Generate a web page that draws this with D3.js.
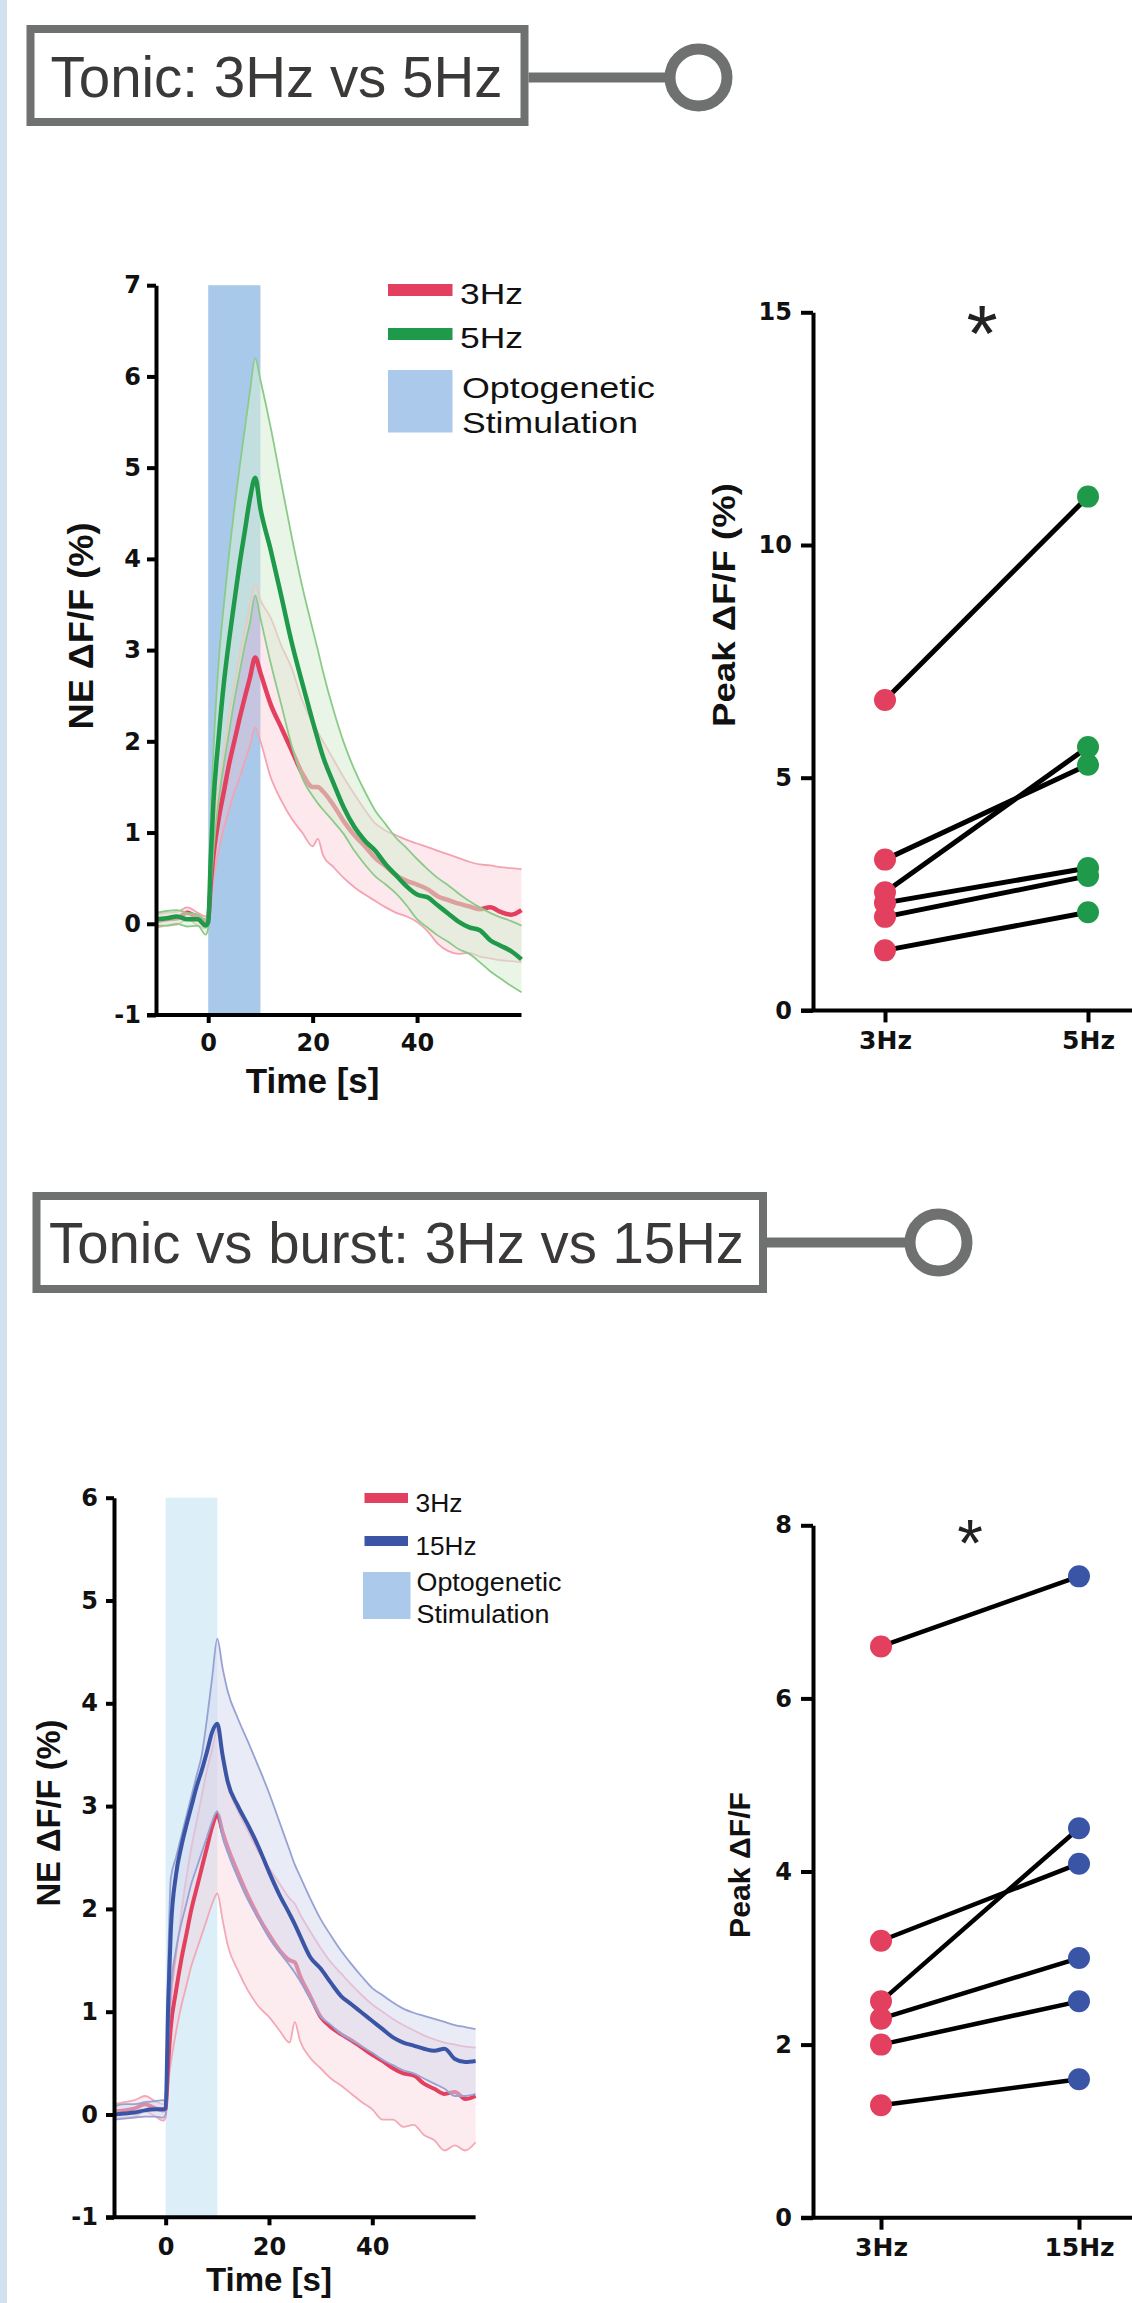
<!DOCTYPE html>
<html lang="en">
<head>
<meta charset="UTF-8">
<title>NE response: tonic vs burst stimulation</title>
<script src="https://cdn.jsdelivr.net/npm/d3@7"></script>
<style>
  body { margin: 0; background: #fff; }
  svg { display: block; }
  text { font-family: "Liberation Sans", Arial, sans-serif; }
  .domain, .tick line { stroke: #000; stroke-width: 4; }
</style>
</head>
<body>
<svg id="fig" width="1132" height="2303"></svg>
<script>
// ---- panel A: 3Hz vs 5Hz traces (time in s, dF/F in %) ----
const T1 = [-10,-8,-6,-4,-2,-0.5,0,0.5,1,2,3,4,5,6,7,8,9,10,12,14,16,18,20,21,22,24,26,28,30,32,34,36,38,40,42,44,46,48,50,52,54,56,58,60];
const green5Mean = [0.05,0.06,0.08,0.05,0.05,-0.02,0.02,0.74,1.33,2.04,2.64,3.11,3.53,3.94,4.3,4.66,4.89,4.55,4.09,3.59,3.08,2.64,2.22,2.02,1.83,1.54,1.27,1.06,0.91,0.8,0.65,0.53,0.41,0.32,0.29,0.2,0.11,0.02,-0.04,-0.07,-0.18,-0.24,-0.3,-0.39];
const green5Hi = [0.12,0.14,0.15,0.12,0.1,0.05,0.1,1.2,1.9,2.87,3.5,4.06,4.55,5.0,5.42,5.84,6.2,5.96,5.43,4.83,4.24,3.7,3.23,3.0,2.76,2.34,1.98,1.69,1.45,1.24,1.09,0.94,0.83,0.71,0.6,0.5,0.42,0.33,0.25,0.18,0.12,0.07,0.03,-0.02];
const green5Lo = [-0.02,-0.02,0.0,-0.03,-0.02,-0.12,-0.05,0.4,0.8,1.35,1.75,2.1,2.45,2.75,3.05,3.3,3.6,3.35,2.85,2.4,1.95,1.6,1.4,1.32,1.25,1.12,0.98,0.8,0.65,0.52,0.43,0.33,0.2,0.05,-0.04,-0.13,-0.2,-0.28,-0.33,-0.42,-0.52,-0.6,-0.68,-0.75];
const red3MeanA = [0.03,0.05,0.06,0.12,0.06,0.02,0.05,0.45,0.75,1.15,1.45,1.75,2.0,2.25,2.48,2.7,2.92,2.75,2.4,2.15,1.9,1.65,1.5,1.5,1.45,1.3,1.12,0.97,0.85,0.72,0.63,0.53,0.47,0.43,0.38,0.3,0.26,0.22,0.19,0.16,0.18,0.13,0.1,0.15];
const red3HiA = [0.1,0.12,0.13,0.18,0.12,0.08,0.1,0.6,1.0,1.5,1.9,2.3,2.62,2.95,3.22,3.5,3.72,3.55,3.35,3.05,2.8,2.45,2.2,2.1,2.0,1.8,1.6,1.42,1.25,1.1,1.02,0.97,0.92,0.88,0.84,0.8,0.76,0.72,0.68,0.65,0.64,0.62,0.61,0.6];
const red3LoA = [-0.04,-0.02,-0.01,0.05,-0.02,-0.05,0.0,0.3,0.5,0.8,1.05,1.25,1.45,1.6,1.78,1.95,2.15,2.0,1.6,1.35,1.15,1.0,0.85,0.93,0.75,0.62,0.5,0.4,0.32,0.25,0.18,0.12,0.08,0.02,-0.08,-0.22,-0.3,-0.33,-0.32,-0.36,-0.38,-0.4,-0.41,-0.42];

// ---- panel C: 3Hz vs 15Hz traces ----
const T3 = [-10,-8,-6,-4,-2,-0.5,0,0.5,1,2,3,4,5,6,7,8,9,10,11,12,14,16,18,20,22,24,25,26,28,30,32,34,36,38,40,42,44,46,48,50,52,54,56,58,60];
const blue15Mean = [0.0,0.01,0.02,0.04,0.05,0.05,0.06,1.1,1.79,2.33,2.6,2.81,3.0,3.19,3.35,3.53,3.72,3.8,3.5,3.24,3.0,2.81,2.6,2.36,2.14,1.95,1.85,1.74,1.53,1.42,1.28,1.15,1.07,0.99,0.91,0.83,0.75,0.7,0.67,0.64,0.62,0.64,0.54,0.51,0.52];
const blue15Hi = [0.08,0.1,0.1,0.12,0.13,0.14,0.12,1.5,2.3,2.5,2.7,2.9,3.1,3.3,3.5,3.85,4.25,4.63,4.35,4.12,3.85,3.62,3.38,3.13,2.85,2.57,2.43,2.32,2.1,1.9,1.74,1.59,1.46,1.34,1.23,1.16,1.09,1.03,0.99,0.96,0.93,0.9,0.87,0.85,0.83];
const blue15Lo = [-0.05,-0.04,-0.03,-0.02,-0.02,-0.03,0.0,0.7,1.2,1.6,1.85,2.05,2.25,2.4,2.55,2.7,2.85,2.95,2.7,2.55,2.3,2.08,1.9,1.72,1.58,1.45,1.38,1.3,1.12,0.95,0.87,0.78,0.72,0.66,0.6,0.53,0.48,0.43,0.4,0.35,0.3,0.25,0.18,0.18,0.2];
const red3MeanC = [0.03,0.04,0.06,0.1,0.06,0.04,0.05,0.5,0.85,1.2,1.5,1.75,2.0,2.2,2.4,2.6,2.8,2.92,2.75,2.6,2.35,2.12,1.92,1.75,1.6,1.5,1.48,1.35,1.15,0.95,0.85,0.78,0.72,0.65,0.58,0.52,0.45,0.4,0.38,0.3,0.25,0.2,0.22,0.15,0.18];
const red3HiC = [0.1,0.12,0.14,0.18,0.13,0.1,0.12,0.7,1.1,1.55,1.95,2.3,2.6,2.85,3.1,3.35,3.55,3.75,3.45,3.2,2.95,2.75,2.55,2.4,2.25,2.1,2.05,1.95,1.78,1.62,1.48,1.37,1.26,1.16,1.07,1.0,0.93,0.87,0.82,0.77,0.73,0.7,0.68,0.66,0.65];
const red3LoC = [-0.04,-0.03,-0.02,0.03,-0.02,-0.06,-0.03,0.3,0.5,0.8,1.05,1.25,1.45,1.6,1.75,1.9,2.05,2.15,1.9,1.65,1.4,1.2,1.05,0.95,0.82,0.7,0.9,0.72,0.55,0.45,0.35,0.28,0.2,0.12,0.05,-0.05,-0.05,-0.12,-0.1,-0.2,-0.25,-0.35,-0.3,-0.35,-0.27];

// ---- paired peak values (one pair per animal) ----
const groupsB = ["3Hz", "5Hz"];
const peakB3 = [6.67, 3.24, 2.54, 2.31, 2.01, 1.29];
const peakB5 = [11.04, 5.28, 5.66, 3.06, 2.89, 2.11];
const groupsD = ["3Hz", "15Hz"];
const peakD3 = [6.6, 3.2, 2.5, 2.3, 2.0, 1.3];
const peakD15 = [7.41, 4.09, 4.5, 3.0, 2.5, 1.6];

const xTicks = [0, 20, 40];
const yTicksA = [-1, 0, 1, 2, 3, 4, 5, 6, 7];
const yTicksC = [-1, 0, 1, 2, 3, 4, 5, 6];
const yTicksB = [0, 5, 10, 15];
const yTicksD = [0, 2, 4, 6, 8];

const RED = "#e2405e", GREEN = "#1f9a4a", BLUE = "#3a55a6";

const svg = d3.select("#fig");

// bold, wide tick font like the original figure
function styleTicks(sel, size) {
  sel.selectAll(".tick text")
    .style("font-family", "'DejaVu Sans', sans-serif")
    .style("font-weight", "bold")
    .style("font-size", size + "px")
    .style("fill", "#111");
}

// light strip on the left edge
svg.append("rect").attr("x", 0).attr("y", 0).attr("width", 7).attr("height", 2303).attr("fill", "#d3e1ef");

function titleBox(x0, y0, x1, y1, label, textX, baseY, textW, fs, cx, cy) {
  const g = svg.append("g");
  g.append("line").attr("x1", x1).attr("x2", cx).attr("y1", cy).attr("y2", cy)
    .attr("stroke", "#6f7070").attr("stroke-width", 10);
  g.append("circle").attr("cx", cx).attr("cy", cy).attr("r", 28.5)
    .attr("fill", "#fff").attr("stroke", "#6f7070").attr("stroke-width", 11);
  g.append("rect").attr("x", x0 + 4).attr("y", y0 + 4).attr("width", x1 - x0 - 8).attr("height", y1 - y0 - 8)
    .attr("fill", "#fff").attr("stroke", "#6f7070").attr("stroke-width", 8);
  g.append("text").attr("x", textX).attr("y", baseY).attr("font-size", fs).attr("fill", "#3b3838")
    .attr("textLength", textW).attr("lengthAdjust", "spacingAndGlyphs").text(label);
}

titleBox(26.5, 25, 528.5, 126, "Tonic: 3Hz vs 5Hz", 50.5, 97, 452, 57, 698.5, 77.5);
titleBox(32.5, 1192, 767, 1293, "Tonic vs burst: 3Hz vs 15Hz", 49, 1262.5, 695, 58, 938.5, 1242.5);

function traceChart(c) {
  const g = svg.append("g");
  const x = d3.scaleLinear([-10, 60], c.xRange);
  const y = d3.scaleLinear([-1, c.yMax], c.yRange);

  g.append("rect").attr("x", x(0)).attr("y", y(c.yMax))
    .attr("width", x(10) - x(0)).attr("height", y(-1) - y(c.yMax)).attr("fill", c.stim);

  c.series.forEach(s => {
    const pts = c.time.map((t, i) => ({ t, m: s.mean[i], lo: s.lo[i], hi: s.hi[i] }));
    const area = d3.area().x(d => x(d.t)).y0(d => y(d.lo)).y1(d => y(d.hi)).curve(d3.curveMonotoneX);
    g.append("path").attr("d", area(pts)).attr("fill", s.band);
    ["lo", "hi"].forEach(k => {
      g.append("path")
        .attr("d", d3.line().x(d => x(d.t)).y(d => y(d[k])).curve(d3.curveMonotoneX)(pts))
        .attr("fill", "none").attr("stroke", s.edge).attr("stroke-width", 1.8);
    });
    g.append("path")
      .attr("d", d3.line().x(d => x(d.t)).y(d => y(d.m)).curve(d3.curveMonotoneX)(pts))
      .attr("fill", "none").attr("stroke", s.color).attr("stroke-width", c.meanW)
      .attr("stroke-linejoin", "round");
  });

  const ya = g.append("g").attr("transform", `translate(${x(-10)},0)`)
    .call(d3.axisLeft(y).tickValues(c.yTicks).tickFormat(d => String(d))
      .tickSize(c.yTick).tickSizeOuter(0).tickPadding(c.yPad));
  styleTicks(ya, 24);

  const xa = g.append("g").attr("transform", `translate(0,${y(-1)})`)
    .call(d3.axisBottom(x).tickValues(xTicks).tickFormat(d => String(d))
      .tickSize(8).tickSizeOuter(0).tickPadding(c.xPad));
  xa.select(".domain").attr("d", `M${x(-10) - c.yTick},0H${x(60)}`);
  styleTicks(xa, 24);

  g.append("text").attr("x", x(20)).attr("y", y(-1) + c.titleDy)
    .attr("text-anchor", "middle").attr("font-weight", "bold").attr("font-size", c.titleFs)
    .attr("fill", "#111").text("Time [s]");

  g.append("text").attr("transform", `translate(${c.yLab[0]},${c.yLab[1]}) rotate(-90)`)
    .attr("text-anchor", "middle").attr("font-weight", "bold").attr("font-size", c.yLab[2])
    .attr("textLength", c.yLab[3]).attr("lengthAdjust", "spacingAndGlyphs")
    .attr("fill", "#111").text(c.yLabel);

  // legend
  const L = c.legend;
  const lg = g.append("g");
  c.series.forEach((s, i) => {
    lg.append("rect").attr("x", L.x0).attr("y", L.lineY[i] - L.lw / 2)
      .attr("width", L.x1 - L.x0).attr("height", L.lw).attr("fill", s.color);
    lg.append("text").attr("x", L.tx).attr("y", L.lineY[i] + L.baseOff)
      .attr("font-size", L.fs).attr("fill", "#111")
      .attr("textLength", L.widths[i]).attr("lengthAdjust", "spacingAndGlyphs").text(s.name);
  });
  lg.append("rect").attr("x", L.px0).attr("y", L.py0).attr("width", L.px1 - L.px0)
    .attr("height", L.py1 - L.py0).attr("fill", "#abc9ea");
  ["Optogenetic", "Stimulation"].forEach((t, i) => {
    lg.append("text").attr("x", L.tx2).attr("y", L.stimBase[i])
      .attr("font-size", L.fs).attr("fill", "#111")
      .attr("textLength", L.widths[2 + i]).attr("lengthAdjust", "spacingAndGlyphs").text(t);
  });
}

traceChart({
  time: T1, xRange: [156, 521.5], yMax: 7, yRange: [1015, 285.2], yTicks: yTicksA,
  stim: "#a9c9eb", meanW: 4.5, yTick: 9, yPad: 6, xPad: 11, titleDy: 78, titleFs: 35,
  yLabel: "NE  \u0394F/F (%)", yLab: [93, 626, 35, 207],
  series: [
    { name: "3Hz", mean: red3MeanA, lo: red3LoA, hi: red3HiA, color: RED,
      band: "rgba(248,190,202,0.35)", edge: "#f3a3b2" },
    { name: "5Hz", mean: green5Mean, lo: green5Lo, hi: green5Hi, color: GREEN,
      band: "rgba(215,238,212,0.55)", edge: "#8bcb89" }
  ],
  legend: { x0: 388, x1: 452.5, lineY: [290, 334], lw: 12, tx: 460, baseOff: 14, fs: 29,
    widths: [63, 63, 193, 176], px0: 388, px1: 452.5, py0: 370, py1: 432.5, tx2: 462, stimBase: [398, 433] }
});

traceChart({
  time: T3, xRange: [114, 475.6], yMax: 6, yRange: [2217.3, 1497.7], yTicks: yTicksC,
  stim: "#dceef8", meanW: 4, yTick: 8, yPad: 8, xPad: 13, titleDy: 74, titleFs: 33,
  yLabel: "NE \u0394F/F (%)", yLab: [60, 1813, 34, 187],
  series: [
    { name: "3Hz", mean: red3MeanC, lo: red3LoC, hi: red3HiC, color: RED,
      band: "rgba(250,200,210,0.35)", edge: "#f3a8b6" },
    { name: "15Hz", mean: blue15Mean, lo: blue15Lo, hi: blue15Hi, color: BLUE,
      band: "rgba(212,216,240,0.5)", edge: "#97a2d3" }
  ],
  legend: { x0: 364.5, x1: 408, lineY: [1498, 1541], lw: 10, tx: 415.5, baseOff: 13.5, fs: 26,
    widths: [47, 61, 145, 133], px0: 363, px1: 410.5, py0: 1572, py1: 1619, tx2: 416.5, stimBase: [1591, 1623] }
});

function pairChart(c) {
  const g = svg.append("g");
  const x = d3.scalePoint(c.groups, c.xRange);
  const y = d3.scaleLinear([0, c.yMax], c.yRange);

  c.a.forEach((v, i) => {
    g.append("line").attr("x1", x(c.groups[0])).attr("y1", y(v))
      .attr("x2", x(c.groups[1])).attr("y2", y(c.b[i]))
      .attr("stroke", "#000").attr("stroke-width", c.lw);
  });
  c.a.forEach(v => g.append("circle").attr("cx", x(c.groups[0])).attr("cy", y(v)).attr("r", 11).attr("fill", RED));
  c.b.forEach(v => g.append("circle").attr("cx", x(c.groups[1])).attr("cy", y(v)).attr("r", 11).attr("fill", c.color));

  const ya = g.append("g").attr("transform", `translate(813,0)`)
    .call(d3.axisLeft(y).tickValues(c.yTicks).tickFormat(d => String(d))
      .tickSize(12).tickSizeOuter(0).tickPadding(9));
  styleTicks(ya, 24);

  const xa = g.append("g").attr("transform", `translate(0,${y(0)})`)
    .call(d3.axisBottom(x).tickSize(12).tickSizeOuter(0).tickPadding(9));
  xa.select(".domain").attr("d", "M801,0H1132");
  styleTicks(xa, 25);

  g.append("text").attr("x", c.star[0]).attr("y", c.star[1]).attr("text-anchor", "middle")
    .attr("font-size", c.star[2]).attr("fill", "#222").text("*");

  g.append("text").attr("transform", `translate(${c.yLab[0]},${c.yLab[1]}) rotate(-90)`)
    .attr("text-anchor", "middle").attr("font-weight", "bold").attr("font-size", c.yLab[2])
    .attr("textLength", c.yLab[3]).attr("lengthAdjust", "spacingAndGlyphs")
    .attr("fill", "#111").text(c.yLabel);
}

pairChart({
  groups: groupsB, xRange: [885, 1088], yMax: 15, yRange: [1010.4, 312.3], yTicks: yTicksB,
  a: peakB3, b: peakB5, color: GREEN, lw: 5, star: [982, 361, 80],
  yLabel: "Peak  \u0394F/F (%)", yLab: [735, 605, 32, 244]
});

pairChart({
  groups: groupsD, xRange: [881, 1079], yMax: 8, yRange: [2217.7, 1525.3], yTicks: yTicksD,
  a: peakD3, b: peakD15, color: BLUE, lw: 4.5, star: [970, 1566, 66],
  yLabel: "Peak \u0394F/F", yLab: [750, 1865, 30, 146]
});
</script>
</body>
</html>
